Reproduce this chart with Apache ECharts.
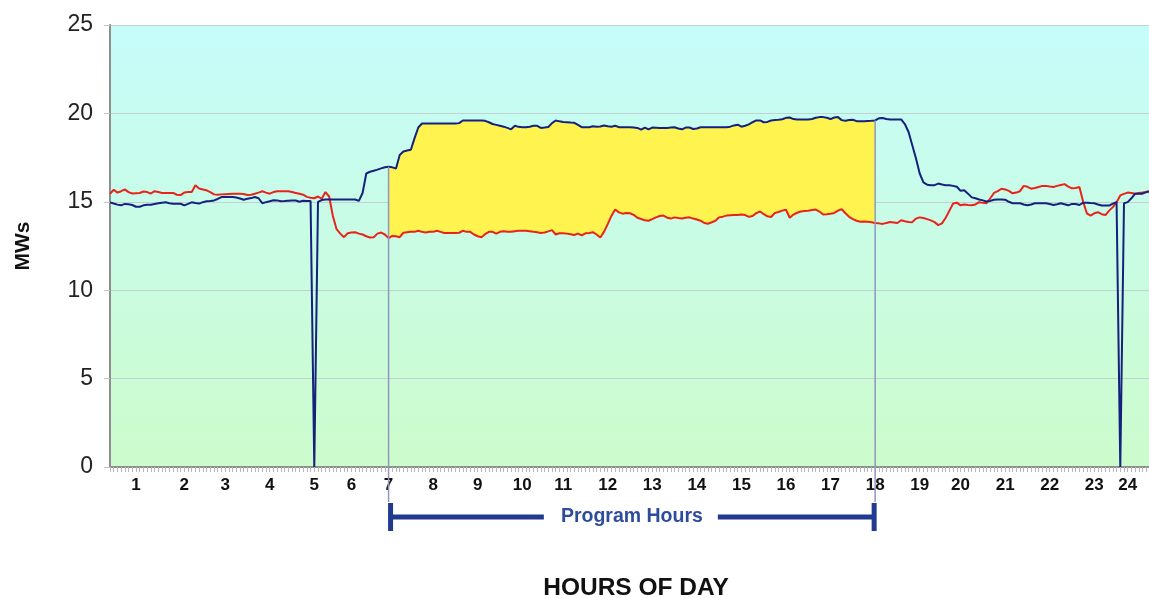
<!DOCTYPE html>
<html><head><meta charset="utf-8">
<script src="https://cdn.jsdelivr.net/npm/echarts@6/dist/echarts.min.js"></script>
<style>html,body{margin:0;padding:0;background:#fff}#c{width:1149px;height:598px}</style>
</head><body><div id="c"></div>
<script>
// 5-minute samples over the day (288 points)
const hourLabels = ['1','2','3','4','5','6','7','8','9','10','11','12','13','14','15','16','17','18','19','20','21','22','23','24'];
const hourLabelIndex = [7,20,31,43,55,65,75,87,99,111,122,134,146,158,170,182,194,206,218,229,241,253,265,274];
const yTicks = [0,5,10,15,20,25];
const programStartIdx = 75;
const programEndIdx = 206;
const programLabel = 'Program Hours';

const mwRed = [
15.45,15.68,15.52,15.6,15.7,15.55,15.47,15.49,15.5,15.58,
15.55,15.47,15.6,15.55,15.5,15.5,15.5,15.5,15.4,15.38,
15.52,15.55,15.56,15.93,15.75,15.7,15.65,15.55,15.42,15.4,
15.42,15.43,15.44,15.45,15.46,15.46,15.44,15.38,15.4,15.46,
15.52,15.6,15.52,15.46,15.55,15.6,15.6,15.6,15.6,15.55,
15.5,15.45,15.4,15.28,15.23,15.2,15.3,15.17,15.55,15.3,
14.2,13.45,13.2,13.0,13.22,13.26,13.28,13.2,13.15,13.05,
12.98,13.0,13.2,13.26,13.15,12.95,13.07,13.05,13.0,13.25,
13.28,13.3,13.3,13.36,13.3,13.27,13.3,13.3,13.36,13.3,
13.24,13.24,13.24,13.24,13.25,13.36,13.3,13.3,13.15,13.05,
13.0,13.17,13.3,13.3,13.2,13.3,13.33,13.3,13.3,13.34,
13.36,13.36,13.36,13.33,13.3,13.28,13.24,13.26,13.33,13.4,
13.15,13.22,13.22,13.2,13.16,13.12,13.2,13.1,13.22,13.24,
13.28,13.15,12.98,13.3,13.74,14.2,14.56,14.4,14.33,14.37,
14.35,14.26,14.1,14.03,13.95,13.93,14.02,14.12,14.2,14.22,
14.1,14.05,14.12,14.08,14.06,14.1,14.12,14.05,14.0,13.93,
13.8,13.76,13.84,13.93,14.12,14.16,14.22,14.24,14.25,14.26,
14.28,14.25,14.15,14.2,14.36,14.45,14.3,14.18,14.14,14.37,
14.42,14.5,14.55,14.1,14.28,14.38,14.45,14.48,14.5,14.53,
14.56,14.45,14.28,14.3,14.33,14.37,14.5,14.58,14.35,14.15,
14.02,13.93,13.87,13.89,13.87,13.84,13.8,13.78,13.75,13.8,
13.86,13.83,13.8,13.96,13.9,13.86,13.85,14.05,14.12,14.08,
14.02,13.95,13.85,13.68,13.78,14.1,14.5,14.9,14.95,14.8,
14.85,14.82,14.8,14.85,14.98,14.94,14.92,15.2,15.5,15.6,
15.74,15.7,15.62,15.48,15.52,15.6,15.9,15.85,15.74,15.78,
15.84,15.9,15.9,15.86,15.84,15.9,15.95,16.0,15.86,15.76,
15.78,15.84,15.0,14.35,14.22,14.35,14.41,14.3,14.25,14.5,
14.7,14.98,15.36,15.45,15.52,15.5,15.46,15.5,15.52,15.56,
15.6,15.62,15.6,15.58,15.62,15.6,15.64,15.6
];

const mwBlue = [
14.97,14.9,14.84,14.8,14.88,14.86,14.82,14.72,14.72,14.8,
14.83,14.83,14.88,14.92,14.95,14.97,14.92,14.89,14.89,14.89,
14.8,14.88,14.97,14.93,14.9,14.98,15.03,15.05,15.08,15.16,
15.27,15.27,15.27,15.27,15.24,15.19,15.12,15.17,15.21,15.27,
15.2,14.92,14.98,15.03,15.09,15.08,15.03,15.04,15.06,15.08,
15.07,15.0,15.06,15.04,15.04,0,15.0,15.1,15.13,15.13,
15.13,15.13,15.13,15.13,15.13,15.13,15.13,15.05,15.5,16.6,
16.7,16.76,16.82,16.89,16.95,16.98,16.95,16.88,17.65,17.85,
17.9,17.94,18.6,19.2,19.43,19.43,19.43,19.43,19.43,19.43,
19.43,19.43,19.43,19.43,19.45,19.6,19.6,19.6,19.6,19.6,
19.6,19.58,19.5,19.4,19.35,19.3,19.25,19.18,19.1,19.3,
19.24,19.22,19.22,19.25,19.3,19.3,19.18,19.2,19.23,19.45,
19.6,19.55,19.52,19.5,19.48,19.47,19.35,19.22,19.22,19.22,
19.27,19.25,19.26,19.32,19.27,19.25,19.3,19.22,19.22,19.22,
19.21,19.2,19.18,19.08,19.2,19.1,19.2,19.19,19.18,19.18,
19.18,19.2,19.22,19.15,19.1,19.2,19.2,19.12,19.15,19.22,
19.22,19.22,19.22,19.22,19.22,19.22,19.22,19.25,19.32,19.36,
19.25,19.3,19.38,19.5,19.6,19.6,19.5,19.52,19.6,19.62,
19.64,19.67,19.75,19.77,19.68,19.66,19.66,19.66,19.66,19.68,
19.75,19.79,19.79,19.75,19.68,19.77,19.79,19.62,19.58,19.63,
19.64,19.56,19.56,19.56,19.57,19.58,19.6,19.72,19.74,19.68,
19.66,19.66,19.66,19.66,19.4,18.95,18.2,17.45,16.6,16.1,
15.97,15.94,15.94,16.03,15.98,15.94,15.94,15.9,15.85,15.62,
15.65,15.46,15.25,15.2,15.13,15.08,15.02,15.05,15.12,15.13,
15.13,15.12,15.0,14.92,14.92,14.92,14.85,14.8,14.85,14.92,
14.92,14.92,14.92,14.88,14.82,14.86,14.92,14.86,14.8,14.88,
14.88,14.82,14.95,14.95,14.93,14.92,14.85,14.79,14.79,14.79,
14.9,14.98,0,14.92,14.98,15.2,15.46,15.46,15.46,15.55,
15.6,15.6,15.62,15.6,15.6,15.62,15.6,15.6
];

const categories = mwRed.map((_, i) => String(i));
const labelMap = {};
hourLabelIndex.forEach((idx, k) => { labelMap[idx] = hourLabels[k]; });

const fillBase = mwRed.map((v, i) => (i >= programStartIdx && i <= programEndIdx) ? v : null);
const fillDiff = mwBlue.map((v, i) => (i >= programStartIdx && i <= programEndIdx) ? +(v - mwRed[i]).toFixed(3) : null);

const chart = echarts.init(document.getElementById('c'), null, {renderer: 'canvas'});
const FONT = '"Liberation Sans", Arial, sans-serif';

chart.setOption({
  animation: false,
  backgroundColor: '#ffffff',
  textStyle: {fontFamily: FONT},
  grid: {
    left: 110, top: 25, bottom: 131, width: 1066,
    outerBoundsMode: 'none', containLabel: false,
    show: true, borderWidth: 0,
    backgroundColor: {type: 'linear', x: 0, y: 0, x2: 0, y2: 1,
      colorStops: [{offset: 0, color: '#c6fcfb'}, {offset: 1, color: '#ccfccc'}]}
  },
  xAxis: {
    type: 'category', data: categories, boundaryGap: false,
    axisLine: {show: true, lineStyle: {color: '#8e8e8e', width: 2}},
    axisTick: {show: true, interval: 0, length: 5, lineStyle: {color: '#b8b8b8', width: 1}},
    axisLabel: {interval: 0, margin: 10, fontSize: 17, fontWeight: 'bold', color: '#111', fontFamily: FONT,
      formatter: (v, idx) => labelMap[idx] || ''},
    splitLine: {show: false}
  },
  yAxis: {
    type: 'value', min: yTicks[0], max: yTicks[yTicks.length - 1], interval: yTicks[1] - yTicks[0],
    name: 'MWs', nameLocation: 'middle', nameRotate: 90, nameGap: 76,
    nameTextStyle: {fontSize: 21, fontWeight: 'bold', color: '#111', fontFamily: FONT},
    axisLine: {show: true, lineStyle: {color: '#8e8e8e', width: 2}},
    axisTick: {show: true, length: 6, lineStyle: {color: '#c4c4c4'}},
    axisLabel: {fontSize: 23, color: '#222', margin: 17, fontFamily: FONT},
    splitLine: {show: true, lineStyle: {color: '#c2d2d0', width: 1}}
  },
  series: [
    {name: 'base', type: 'line', data: fillBase, stack: 'fill', symbol: 'none', silent: true,
     lineStyle: {opacity: 0}, z: 1},
    {name: 'program', type: 'line', data: fillDiff, stack: 'fill', symbol: 'none', silent: true,
     lineStyle: {opacity: 0}, areaStyle: {color: '#fff44f', opacity: 1}, z: 1},
    {name: 'Red', type: 'line', data: mwRed, symbol: 'none', z: 3,
     lineStyle: {color: '#e8231c', width: 2}},
    {name: 'Blue', type: 'line', data: mwBlue, symbol: 'none', z: 4,
     lineStyle: {color: '#15217d', width: 2}}
  ]
});

function px(i, v) { return chart.convertToPixel({xAxisIndex: 0, yAxisIndex: 0}, [i, v]); }
const pS = px(programStartIdx, mwBlue[programStartIdx]);
const pE = px(programEndIdx, mwBlue[programEndIdx]);
const barY = 517, lineBottom = 502;
const cx = (pS[0] + pE[0]) / 2;
const gapHalf = 88;
const barColor = '#1f3a8e';

chart.setOption({
  graphic: [
    {type: 'line', z: 10, shape: {x1: pS[0], y1: pS[1], x2: pS[0], y2: lineBottom}, style: {stroke: '#8f96c0', lineWidth: 1.5}},
    {type: 'line', z: 10, shape: {x1: pE[0], y1: pE[1], x2: pE[0], y2: lineBottom}, style: {stroke: '#8f96c0', lineWidth: 1.5}},
    {type: 'line', z: 10, shape: {x1: pS[0], y1: barY, x2: cx - gapHalf, y2: barY}, style: {stroke: barColor, lineWidth: 5}},
    {type: 'line', z: 10, shape: {x1: cx + gapHalf - 2, y1: barY, x2: pE[0], y2: barY}, style: {stroke: barColor, lineWidth: 5}},
    {type: 'line', z: 10, shape: {x1: pS[0] + 2, y1: 503, x2: pS[0] + 2, y2: 531}, style: {stroke: barColor, lineWidth: 5}},
    {type: 'line', z: 10, shape: {x1: pE[0] - 1, y1: 503, x2: pE[0] - 1, y2: 531}, style: {stroke: barColor, lineWidth: 5}},
    {type: 'text', z: 10, x: cx, y: barY, style: {text: programLabel, fill: '#2d4c9c', font: 'bold 19.5px ' + FONT, align: 'center', verticalAlign: 'middle'}},
    {type: 'text', z: 10, x: 636, y: 588, style: {text: 'HOURS OF DAY', fill: '#111', font: 'bold 24.5px ' + FONT, align: 'center', verticalAlign: 'middle'}}
  ]
});
</script></body></html>
